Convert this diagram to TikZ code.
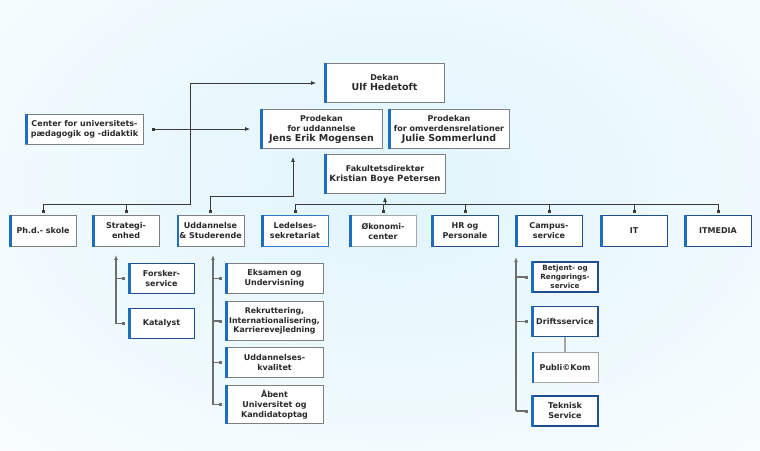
\documentclass[tikz,border=0pt]{standalone}
\usepackage{fontspec}
\setmainfont{DejaVu Sans}
\usepackage{xcolor}
\usetikzlibrary{arrows.meta}

\definecolor{linkgray}{HTML}{3A3A3A}
\definecolor{subgray}{HTML}{6E6E6E}
\definecolor{boxgray}{HTML}{808080}
\definecolor{lightbox}{HTML}{A6A6A6}
\definecolor{navy}{HTML}{1F4E8A}
\definecolor{ledblue}{HTML}{2E78C4}
\definecolor{barblue}{HTML}{1E6EC0}
\definecolor{txt}{HTML}{2A2A2A}
\definecolor{glow}{HTML}{E0F5FC}

\tikzset{
	unit/.style = {draw=boxgray, line width=0.9pt, fill=white, text=txt, align=center, inner sep=1pt, font=\fontsize{8}{10}\selectfont\bfseries},
	unitnavy/.style = {unit, draw=navy, line width=1.2pt},
	unitlight/.style = {unit, draw=lightbox},
	rowbox/.style = {minimum width=67pt, minimum height=31pt},
	subbox/.style = {minimum width=66pt, minimum height=30pt},
	bar/.style = {draw=barblue, line width=2.6pt},
	link/.style = {draw=linkgray, line width=0.8pt},
	sub/.style = {draw=subgray, line width=1.3pt},
	>/.tip = {Latex[length=5pt, width=4pt]},
	sq/.tip = {Square[length=3pt, width=3pt]},
}
\newcommand{\persname}[1]{{\fontsize{9.5}{11.5}\selectfont #1}}

\begin{document}
\begin{tikzpicture}[x = 1pt, y = -1pt]
			\useasboundingbox (0, 0) rectangle (760, 450);
			\begin{scope}
			\clip (0, 0) rectangle (760, 450);
			\shade[inner color = glow, outer color = white] (395, 185) ellipse [x radius = 700pt, y radius = 460pt];
			\end{scope}

			\node[unit, minimum width = 120pt, minimum height = 39pt] (dekan) at (384.5, 83) {Dekan\\\persname{Ulf Hedetoft}};
			\node[unit, minimum width = 122pt, minimum height = 39pt] (produdd) at (321.5, 129) {Prodekan\\for uddannelse\\\persname{Jens Erik Mogensen}};
			\node[unit, minimum width = 121pt, minimum height = 39pt] (prodomv) at (449, 129) {Prodekan\\for omverdensrelationer\\\persname{Julie Sommerlund}};
			\node[unit, minimum width = 121pt, minimum height = 39pt] (fakdir) at (385, 174) {Fakultetsdirektør\\{\fontsize{8.6}{10.5}\selectfont Kristian Boye Petersen}};
			\node[unit, minimum width = 118pt, minimum height = 30pt] (cud) at (84.5, 129) {Center for universitets-\\pædagogik og -didaktik};

			\foreach \n/\s/\x/\t in {phd/unit/43/{Ph.d.- skole}, strat/unit/126/{Strategi-\\enhed}, uddstud/unit/210.5/{Uddannelse\\\& Studerende}, oekon/unitlight/383/{Økonomi-\\center}, hr/unitnavy/465/{HR og\\Personale}, campus/unitnavy/549/{Campus-\\service}, it/unitnavy/634/{IT}, itmedia/unitnavy/718/{ITMEDIA}}
			\node[\s, rowbox] (\n) at (\x, 231) {\t};
			\node[unit, rowbox, draw = ledblue, line width = 1.2pt] (ledsek) at (295, 231) {Ledelses-\\sekretariat};

			\node[unitnavy, subbox] (forsker) at (161.5, 278.5) {Forsker-\\service};
			\node[unitnavy, subbox] (katalyst) at (161.5, 323.5) {Katalyst};

			\node[unit, minimum width = 98pt, minimum height = 30pt] (eksamen) at (274.5, 278.5) {Eksamen og\\Undervisning};
			\node[unit, minimum width = 98pt, minimum height = 39pt, font = \fontsize{7.8}{9.5}\selectfont\bfseries] (rekrut) at (274.5, 321) {Rekruttering,\\Internationalisering,\\Karrierevejledning};
			\node[unit, minimum width = 98pt, minimum height = 30pt] (kvalitet) at (274.5, 362.5) {Uddannelses-\\kvalitet};
			\node[unit, minimum width = 98pt, minimum height = 38pt] (aabent) at (274.5, 404.5) {Åbent\\Universitet og\\Kandidatoptag};

			\node[unitnavy, subbox, font = \fontsize{7.2}{9}\selectfont\bfseries] (betjent) at (565, 277) {Betjent- og\\Rengørings-\\service};
			\node[unitnavy, subbox] (drift) at (565, 321.5) {Driftsservice};
			\node[unitlight, subbox] (publi) at (565, 367.5) {Publi©Kom};
			\node[unitnavy, subbox] (teknisk) at (565, 411) {Teknisk\\Service};

			\foreach \n in {dekan, produdd, prodomv, fakdir, cud, phd, strat, uddstud, ledsek, oekon, hr, campus, it, itmedia, forsker, katalyst, eksamen, rekrut, kvalitet, aabent, betjent, drift, publi, teknisk}
			\draw[bar] ([xshift = 1.3pt]\n.north west) -- ([xshift = 1.3pt]\n.south west);

			\coordinate (lbus) at (190, 204);
			\coordinate (rbus) at (0, 204);
			\coordinate (ukink) at (293, 196);
			\coordinate (sbar) at (116, 0);
			\coordinate (ubar) at (213, 0);
			\coordinate (cbar) at (516, 0);

			\draw[link, ->] (lbus -| phd.north) -- (lbus) |- ([xshift = -8pt]dekan.west);
			\foreach \n in {phd, strat}
			\draw[link, -sq] (lbus -| \n.north) -- ([yshift = 2pt]\n.north);
			\draw[link, sq->] ([yshift = 2pt]uddstud.north) |- (ukink) -- ([yshift = -8pt]ukink |- produdd.south);
			\draw[link, sq->] ([xshift = 8pt]cud.east) -- ([xshift = -10pt]produdd.west);

			\draw[link] (rbus -| ledsek.north) -- (rbus -| itmedia.north);
			\draw[link, ->] (rbus -| fakdir.south) -- ([yshift = -3pt]fakdir.south);
			\foreach \n in {ledsek, oekon, hr, campus, it, itmedia}
			\draw[link, -sq] (rbus -| \n.north) -- ([yshift = 2pt]\n.north);

			\draw[sub, ->] (sbar |- katalyst.west) -- ([yshift = -8pt]sbar |- strat.south);
			\foreach \n in {forsker, katalyst}
			\draw[sub, -sq] (sbar |- \n.west) -- ([xshift = -3pt]\n.west);
			\draw[sub, ->] (ubar |- aabent.west) -- ([yshift = -8pt]ubar |- uddstud.south);
			\foreach \n in {eksamen, rekrut, kvalitet, aabent}
			\draw[sub, -sq] (ubar |- \n.west) -- ([xshift = -3pt]\n.west);
			\draw[sub, ->] (cbar |- teknisk.west) -- ([yshift = -10pt]cbar |- campus.south);
			\foreach \n in {betjent, drift, teknisk}
			\draw[sub, -sq] (cbar |- \n.west) -- ([xshift = -3pt]\n.west);
			\draw[draw = lightbox, line width = 1.2pt] (drift.south) -- (publi.north);
			\end{tikzpicture}
\end{document}
